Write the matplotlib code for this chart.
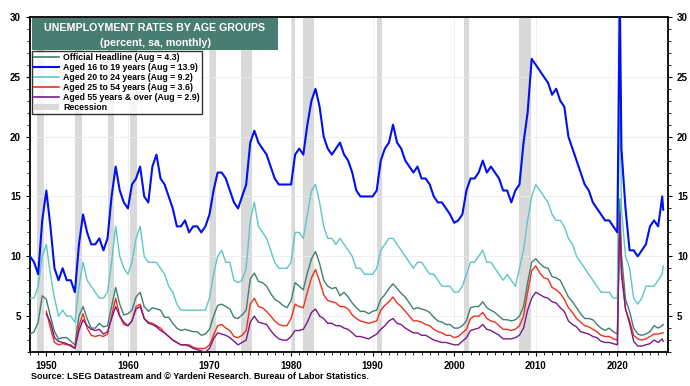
import matplotlib.pyplot as plt
import numpy as np
from matplotlib.lines import Line2D
from matplotlib.patches import Patch, Rectangle

plt.rcParams['font.family'] = ['Liberation Sans', 'DejaVu Sans']
plt.rcParams['font.weight'] = 'bold'

# semi-annual readings (Jan, Jul) 1948-2020, Apr 2020 spike, Jul 2020-Jul 2025, Aug 2025
t = np.r_[np.arange(1948.0, 2020.1, 0.5), 2020.3, np.arange(2020.5, 2025.6, 0.5), 2025.62]

headline = [
    3.5, 3.7, 4.5, 6.7, 6.4, 5.0, 3.7, 3.1, 3.2, 3.2, 2.9, 2.6, 5.0, 5.8, 4.8, 4.0, 4.0, 4.4, 4.1, 4.2,
    5.8, 7.4, 6.0, 5.1, 5.2, 5.5, 6.6, 7.0, 5.8, 5.4, 5.7, 5.6, 5.5, 4.9, 4.9, 4.4, 4.0, 3.8, 3.9, 3.8,
    3.7, 3.7, 3.4, 3.5, 3.9, 5.0, 5.9, 6.0, 5.8, 5.6, 4.9, 4.8, 5.1, 5.5, 8.1, 8.6, 7.9, 7.8, 7.5, 6.9,
    6.4, 6.2, 5.9, 5.7, 6.3, 7.8, 7.5, 7.2, 8.6, 9.8, 10.4, 9.4, 8.0, 7.5, 7.3, 7.4, 6.7, 7.0, 6.6, 6.1,
    5.7, 5.4, 5.4, 5.2, 5.4, 5.5, 6.4, 6.8, 7.3, 7.7, 7.3, 6.9, 6.6, 6.1, 5.6, 5.7, 5.6, 5.5, 5.3, 4.9,
    4.6, 4.5, 4.3, 4.3, 4.0, 4.0, 4.2, 4.6, 5.7, 5.8, 5.8, 6.2, 5.7, 5.5, 5.3, 5.0, 4.7, 4.7, 4.6, 4.7,
    5.0, 5.8, 7.8, 9.5, 9.8, 9.4, 9.1, 9.0, 8.3, 8.2, 8.0, 7.3, 6.6, 6.2, 5.7, 5.2, 4.8, 4.8, 4.7, 4.3,
    4.0, 3.8, 4.0, 3.7, 3.5, 14.8, 10.2, 6.4, 5.4, 4.0, 3.5, 3.4, 3.5, 3.7, 4.2, 4.0, 4.2, 4.3]

teens = [
    10.0, 9.5, 8.5, 13.0, 15.5, 12.5, 9.0, 8.0, 9.0, 8.0, 8.0, 7.0, 11.0, 13.5, 12.0, 11.0, 11.0, 11.5, 10.5, 11.5,
    15.0, 17.5, 15.5, 14.5, 14.0, 16.0, 16.5, 17.5, 15.0, 14.5, 17.5, 18.5, 16.5, 16.0, 15.0, 14.0, 12.5, 12.5, 13.0, 12.0,
    12.5, 12.5, 12.0, 12.5, 13.5, 15.5, 17.0, 17.0, 16.5, 15.5, 14.5, 14.0, 15.0, 16.0, 19.5, 20.5, 19.5, 19.0, 18.5, 17.5,
    16.5, 16.0, 16.0, 16.0, 16.0, 18.5, 19.0, 18.5, 21.0, 23.0, 24.0, 22.5, 20.0, 19.0, 18.5, 19.0, 19.5, 18.5, 18.0, 17.0,
    15.5, 15.0, 15.0, 15.0, 15.0, 15.5, 18.0, 19.0, 19.5, 21.0, 19.5, 19.0, 18.0, 17.5, 17.0, 17.5, 16.5, 16.5, 16.0, 15.0,
    14.5, 14.5, 14.0, 13.5, 12.8, 13.0, 13.5, 15.5, 16.5, 16.5, 17.0, 18.0, 17.0, 17.5, 17.0, 16.5, 15.5, 15.5, 14.5, 15.5,
    16.0, 19.5, 22.0, 26.5, 26.0, 25.5, 25.0, 24.5, 23.5, 24.0, 23.0, 22.5, 20.0, 19.0, 18.0, 17.0, 16.0, 15.5, 14.5, 14.0,
    13.5, 13.0, 13.0, 12.5, 12.0, 32.0, 19.0, 14.0, 10.5, 10.5, 10.0, 10.5, 11.0, 12.5, 13.0, 12.5, 15.0, 13.9]

age20_24 = [
    6.5, 6.5, 7.5, 10.0, 11.0, 8.5, 6.5, 5.0, 5.5, 5.0, 5.0, 4.5, 7.5, 9.5, 8.0, 7.5, 7.0, 6.5, 6.5, 7.0,
    9.5, 12.5, 10.0, 9.0, 8.5, 9.5, 11.5, 12.5, 10.0, 9.5, 9.5, 9.5, 9.0, 8.5, 7.5, 7.0, 6.0, 5.5, 5.5, 5.5,
    5.5, 5.5, 5.5, 5.5, 6.5, 8.5, 10.0, 10.5, 9.5, 9.5, 8.0, 7.8, 8.0, 9.0, 13.0, 14.5, 12.5, 12.0, 11.5, 10.5,
    9.5, 9.0, 9.0, 9.0, 9.5, 12.0, 12.0, 11.5, 13.5, 15.5, 16.0, 14.5, 12.5, 11.5, 11.5, 11.0, 11.5, 11.0, 10.5, 10.0,
    9.0, 9.0, 8.5, 8.5, 8.5, 9.0, 10.5, 11.0, 11.5, 11.5, 11.0, 10.5, 10.0, 9.5, 9.0, 9.5, 9.5, 9.0, 8.5, 8.5,
    8.0, 7.5, 7.5, 7.5, 7.0, 7.0, 7.5, 8.5, 9.5, 9.5, 10.0, 10.5, 9.5, 9.5, 9.0, 8.5, 8.0, 8.5, 8.0, 7.5,
    9.0, 10.5, 13.0, 15.0, 16.0, 15.5, 15.0, 14.5, 13.5, 13.0, 13.0, 12.5, 11.5, 11.0, 10.0, 9.5, 9.0, 8.5, 8.0, 7.5,
    7.0, 7.0, 7.0, 6.5, 6.5, 25.7, 14.0, 10.0, 9.0, 6.5, 6.0, 6.5, 7.5, 7.5, 7.5, 8.0, 8.5, 9.2]

age25_54 = [
    np.nan, np.nan, np.nan, np.nan, 5.4, 4.0, 2.8, 2.6, 2.7, 2.6, 2.6, 2.3, 4.2, 5.2, 4.0, 3.4, 3.3, 3.4, 3.3, 3.5,
    5.0, 6.5, 5.0, 4.3, 4.2, 4.6, 5.8, 6.0, 4.8, 4.5, 4.4, 4.2, 4.0, 3.6, 3.3, 3.0, 2.8, 2.6, 2.6, 2.6,
    2.4, 2.3, 2.3, 2.3, 2.6, 3.4, 4.2, 4.3, 4.0, 3.8, 3.3, 3.2, 3.4, 3.8, 6.0, 6.5, 5.8, 5.7, 5.4, 5.0,
    4.6, 4.3, 4.2, 4.2, 4.8, 6.0, 5.8, 5.7, 7.0, 8.2, 8.9, 7.9, 6.8, 6.3, 6.2, 6.1, 5.8, 5.8, 5.6, 5.1,
    4.8, 4.6, 4.5, 4.4, 4.5, 4.6, 5.5, 5.9, 6.2, 6.6, 6.1, 5.8, 5.4, 5.0, 4.6, 4.6, 4.5, 4.3, 4.2, 3.9,
    3.7, 3.6, 3.4, 3.4, 3.2, 3.3, 3.6, 3.9, 4.8, 5.0, 5.0, 5.3, 4.8, 4.6, 4.5, 4.2, 3.9, 3.9, 3.8, 3.9,
    4.2, 5.0, 7.0, 8.8, 9.2, 8.6, 8.2, 8.1, 7.4, 7.2, 6.9, 6.4, 5.7, 5.3, 4.8, 4.5, 4.2, 4.1, 3.9, 3.7,
    3.4, 3.3, 3.3, 3.1, 3.0, 13.0, 9.0, 5.6, 4.6, 3.4, 3.1, 3.0, 3.1, 3.3, 3.5, 3.5, 3.6, 3.6]

age55_over = [
    np.nan, np.nan, np.nan, np.nan, 5.2, 4.5, 3.2, 2.9, 2.8, 2.7, 2.5, 2.3, 3.8, 4.7, 4.2, 3.9, 3.8, 3.9, 3.5, 3.7,
    4.8, 5.8, 5.0, 4.5, 4.2, 4.6, 5.6, 5.8, 4.8, 4.4, 4.3, 4.1, 3.8, 3.6, 3.3, 3.0, 2.8, 2.6, 2.6, 2.5,
    2.3, 2.2, 2.1, 2.0, 2.3, 3.1, 3.6, 3.5, 3.4, 3.2, 2.9, 2.6, 2.8, 3.0, 4.5, 5.0, 4.5, 4.4, 4.3, 3.8,
    3.4, 3.1, 3.0, 3.0, 3.3, 3.8, 3.8, 3.9, 4.5, 5.3, 5.6, 5.0, 4.8, 4.4, 4.4, 4.2, 4.2, 4.0, 3.9, 3.6,
    3.3, 3.3, 3.2, 3.1, 3.3, 3.5, 3.9, 4.2, 4.6, 4.8, 4.4, 4.3, 4.0, 3.8, 3.6, 3.6, 3.4, 3.4, 3.2, 3.0,
    2.9, 2.8, 2.8, 2.7, 2.6, 2.6, 2.9, 3.2, 3.8, 3.9, 4.0, 4.3, 3.9, 3.8, 3.6, 3.4, 3.1, 3.1, 3.1, 3.2,
    3.4, 4.0, 5.5, 6.5, 7.0, 6.8, 6.6, 6.5, 6.2, 6.1, 5.7, 5.4, 4.6, 4.3, 4.1, 3.7, 3.6, 3.5, 3.3, 3.2,
    2.9, 2.8, 2.8, 2.7, 2.6, 13.6, 8.5, 5.6, 4.4, 2.9, 2.5, 2.5, 2.6, 2.7, 3.0, 2.8, 3.1, 2.9]

rec_start = [1948.83, 1953.5, 1957.58, 1960.25, 1969.92, 1973.83, 1980.0, 1981.5, 1990.5, 2001.17, 2007.92, 2020.08]
rec_end = [1949.75, 1954.33, 1958.25, 1961.08, 1970.83, 1975.17, 1980.5, 1982.83, 1991.17, 2001.83, 2009.42, 2020.25]

c_head = '#3e8073'
c_teen = '#0010f0'
c_2024 = '#5cc6c8'
c_2554 = '#f0301e'
c_55 = '#7a1a8c'
c_rec = '#d9d9d9'

fig = plt.figure(figsize=(6.9, 3.86), dpi=100)
ax = fig.add_axes([0.0435, 0.088, 0.9245, 0.868])

for s, e in zip(rec_start, rec_end):
    ax.axvspan(s, e, color=c_rec, lw=0, zorder=0)

ax.plot(t, headline, color=c_head, lw=1.0, zorder=3)
ax.plot(t, age20_24, color=c_2024, lw=1.0, zorder=3)
ax.plot(t, age25_54, color=c_2554, lw=1.0, zorder=3)
ax.plot(t, age55_over, color=c_55, lw=1.0, zorder=4)
ax.plot(t, teens, color=c_teen, lw=1.5, zorder=5)

ax.set_xlim(1948.0, 2026.2)
ax.set_ylim(2, 30)
ax.set_xticks(range(1950, 2021, 10))
ax.set_xticks(range(1948, 2027), minor=True)
ax.set_yticks([5, 10, 15, 20, 25, 30])
ax.set_yticks(range(2, 31), minor=True)
ax.tick_params(axis='both', which='major', labelsize=7, direction='out', length=3, width=0.8)
ax.tick_params(axis='both', which='minor', direction='out', length=2, width=0.6)
ax.tick_params(axis='y', which='both', right=True, labelright=True)
for lab in ax.get_xticklabels() + ax.get_yticklabels():
    lab.set_fontweight('bold')
ax.grid(True, which='major', color='#ececec', lw=0.6, zorder=1)
for sp in ax.spines.values():
    sp.set_linewidth(1.3)

# title box
ax.add_patch(Rectangle((0.003, 0.902), 0.386, 0.094, transform=ax.transAxes,
                       facecolor='#4a7d72', edgecolor='none', zorder=6))
ax.text(0.196, 0.966, 'UNEMPLOYMENT RATES BY AGE GROUPS', transform=ax.transAxes,
        ha='center', va='center', color='white', fontsize=7.7, fontweight='bold', zorder=7)
ax.text(0.196, 0.922, '(percent, sa, monthly)', transform=ax.transAxes,
        ha='center', va='center', color='white', fontsize=7.7, fontweight='bold', zorder=7)

handles = [
    Line2D([], [], color=c_head, lw=1.2),
    Line2D([], [], color=c_teen, lw=1.5),
    Line2D([], [], color=c_2024, lw=1.2),
    Line2D([], [], color=c_2554, lw=1.2),
    Line2D([], [], color=c_55, lw=1.2),
    Patch(facecolor=c_rec, edgecolor='none'),
]
labels = [
    'Official Headline (Aug = 4.3)',
    'Aged 16 to 19 years (Aug = 13.9)',
    'Aged 20 to 24 years (Aug = 9.2)',
    'Aged 25 to 54 years (Aug = 3.6)',
    'Aged 55 years & over (Aug = 2.9)',
    'Recession',
]
leg = ax.legend(handles, labels, loc='upper left', bbox_to_anchor=(0.003, 0.898),
                frameon=True, fancybox=False, edgecolor='black',
                handlelength=2.9, handletextpad=0.45, labelspacing=0.1,
                borderpad=0.25, borderaxespad=0.0, prop={'weight': 'bold', 'size': 6.3})
leg.get_frame().set_linewidth(1.0)
leg.set_zorder(8)

fig.text(0.045, 0.025, 'Source: LSEG Datastream and \u00a9 Yardeni Research. Bureau of Labor Statistics.',
         fontsize=6.5, fontweight='bold', ha='left', va='center')

fig.savefig('out.png', dpi=100)
